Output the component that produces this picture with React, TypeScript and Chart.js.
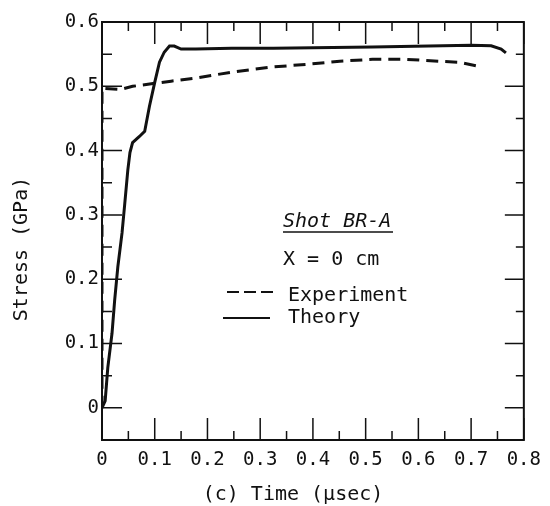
import React, { useEffect, useRef } from "react";
import { Chart, registerables } from "chart.js";

Chart.register(...registerables);

// ---- Data ----
const theoryTime = [0, 0.006, 0.011, 0.019, 0.024, 0.03, 0.038, 0.043, 0.049, 0.053, 0.058, 0.071, 0.081, 0.09, 0.1, 0.109, 0.118, 0.128, 0.137, 0.15, 0.178, 0.246, 0.325, 0.513, 0.7, 0.738, 0.757, 0.766];
const theoryStress = [0, 0.011, 0.0625, 0.116, 0.167, 0.219, 0.272, 0.316, 0.37, 0.397, 0.4125, 0.422, 0.43, 0.469, 0.506, 0.5375, 0.553, 0.5625, 0.5625, 0.558, 0.558, 0.559, 0.559, 0.561, 0.564, 0.563, 0.558, 0.552];

const experimentTime = [0, 0, 0.034, 0.058, 0.131, 0.175, 0.246, 0.321, 0.387, 0.451, 0.513, 0.575, 0.638, 0.676, 0.715];
const experimentStress = [0, 0.497, 0.495, 0.5, 0.508, 0.5125, 0.522, 0.53, 0.534, 0.539, 0.542, 0.542, 0.539, 0.5375, 0.531];

const xMajorTicks = [0, 0.1, 0.2, 0.3, 0.4, 0.5, 0.6, 0.7, 0.8];
const xTickLabels = ["0", "0.1", "0.2", "0.3", "0.4", "0.5", "0.6", "0.7", "0.8"];
const xMinorTicks = [0.05, 0.15, 0.25, 0.35, 0.45, 0.55, 0.65, 0.75];

const yMajorTicks = [0, 0.1, 0.2, 0.3, 0.4, 0.5, 0.6];
const yTickLabels = ["0", "0.1", "0.2", "0.3", "0.4", "0.5", "0.6"];
const yMinorTicks = [0.05, 0.15, 0.25, 0.35, 0.45, 0.55];

const xTitle = "(c) Time (\u03bcsec)";
const yTitle = "Stress (GPa)";
const legendTitle = "Shot BR-A";
const legendSub = "X = 0 cm";
const seriesNames = ["Experiment", "Theory"];

const FONT = "'DejaVu Sans Mono', monospace";
const INK = "#111";

const decorPlugin = {
  id: "decor",
  afterDraw(chart: any) {
    const ctx = chart.ctx;
    const a = chart.chartArea;
    const xs = chart.scales.x;
    const ys = chart.scales.y;
    ctx.save();
    ctx.strokeStyle = INK;
    ctx.fillStyle = INK;
    // frame
    ctx.lineWidth = 2;
    ctx.strokeRect(a.left, a.top, a.right - a.left, a.bottom - a.top);
    // ticks (inward, on all four sides)
    const drawX = (vals: number[], len: number) => {
      vals.forEach((v) => {
        const px = xs.getPixelForValue(v);
        ctx.beginPath();
        ctx.moveTo(px, a.bottom);
        ctx.lineTo(px, a.bottom - len);
        ctx.moveTo(px, a.top);
        ctx.lineTo(px, a.top + len);
        ctx.stroke();
      });
    };
    const drawY = (vals: number[], lenL: number, lenR: number) => {
      vals.forEach((v) => {
        const py = ys.getPixelForValue(v);
        ctx.beginPath();
        ctx.moveTo(a.left, py);
        ctx.lineTo(a.left + lenL, py);
        ctx.moveTo(a.right, py);
        ctx.lineTo(a.right - lenR, py);
        ctx.stroke();
      });
    };
    ctx.lineWidth = 1.5;
    drawX(xMajorTicks, 22);
    drawX(xMinorTicks, 9);
    drawY(yMajorTicks, 20, 19);
    drawY(yMinorTicks, 10, 8);

    // axis titles
    ctx.font = `20px ${FONT}`;
    ctx.textAlign = "center";
    ctx.textBaseline = "middle";
    ctx.fillText(xTitle, 293, 495);
    ctx.save();
    ctx.translate(22, 249);
    ctx.rotate(-Math.PI / 2);
    ctx.fillText(yTitle, 0, 0);
    ctx.restore();

    // legend block
    ctx.textAlign = "left";
    ctx.font = `italic 20px ${FONT}`;
    ctx.fillText(legendTitle, 283, 222);
    ctx.lineWidth = 1.5;
    ctx.beginPath();
    ctx.moveTo(283, 232);
    ctx.lineTo(393, 232);
    ctx.stroke();
    ctx.font = `20px ${FONT}`;
    ctx.fillText(legendSub, 283, 260);
    ctx.fillText(seriesNames[0], 288, 296);
    ctx.fillText(seriesNames[1], 288, 318);
    ctx.lineWidth = 2;
    ctx.setLineDash([12, 5]);
    ctx.beginPath();
    ctx.moveTo(227, 292);
    ctx.lineTo(274, 292);
    ctx.stroke();
    ctx.setLineDash([]);
    ctx.beginPath();
    ctx.moveTo(223, 318);
    ctx.lineTo(270, 318);
    ctx.stroke();
    ctx.restore();
  },
};

export default function App() {
  const ref = useRef<HTMLCanvasElement | null>(null);
  useEffect(() => {
    if (!ref.current) return;
    const chart = new Chart(ref.current, {
      type: "line",
      data: {
        datasets: [
          {
            label: seriesNames[0],
            data: experimentTime.map((t, i) => ({ x: t, y: experimentStress[i] })),
            borderColor: INK,
            borderWidth: 3,
            borderDash: [12, 7],
            pointRadius: 0,
            tension: 0,
            fill: false,
          },
          {
            label: seriesNames[1],
            data: theoryTime.map((t, i) => ({ x: t, y: theoryStress[i] })),
            borderColor: INK,
            borderWidth: 3,
            pointRadius: 0,
            tension: 0,
            fill: false,
          },
        ],
      },
      options: {
        animation: false,
        responsive: false,
        maintainAspectRatio: false,
        layout: { padding: { top: 22, right: 22, left: 0, bottom: 0 } },
        plugins: { legend: { display: false }, tooltip: { enabled: false } },
        scales: {
          x: {
            type: "linear",
            min: 0,
            max: 0.8,
            grid: { display: false, drawTicks: false },
            border: { display: false },
            afterBuildTicks: (s: any) => {
              s.ticks = xMajorTicks.map((v) => ({ value: v }));
            },
            afterFit: (s: any) => {
              s.height = 66;
            },
            ticks: {
              padding: 9,
              maxRotation: 0,
              autoSkip: false,
              color: INK,
              font: { family: FONT, size: 19 },
              callback: (v: any) => {
                const i = xMajorTicks.findIndex((m) => Math.abs(m - Number(v)) < 1e-9);
                return i >= 0 ? xTickLabels[i] : "";
              },
            },
          },
          y: {
            type: "linear",
            min: -0.05,
            max: 0.6,
            grid: { display: false, drawTicks: false },
            border: { display: false },
            afterBuildTicks: (s: any) => {
              s.ticks = yMajorTicks.map((v) => ({ value: v }));
            },
            afterFit: (s: any) => {
              s.width = 102;
            },
            ticks: {
              padding: 3,
              autoSkip: false,
              color: INK,
              font: { family: FONT, size: 19 },
              callback: (v: any) => {
                const i = yMajorTicks.findIndex((m) => Math.abs(m - Number(v)) < 1e-9);
                return i >= 0 ? yTickLabels[i] : "";
              },
            },
          },
        },
      },
      plugins: [decorPlugin],
    } as any);
    return () => chart.destroy();
  }, []);
  return (
    <div style={{ position: "fixed", left: 0, top: 0, width: 550, height: 506, background: "#fff" }}>
      <canvas ref={ref} width={550} height={506} style={{ display: "block" }} />
    </div>
  );
}
